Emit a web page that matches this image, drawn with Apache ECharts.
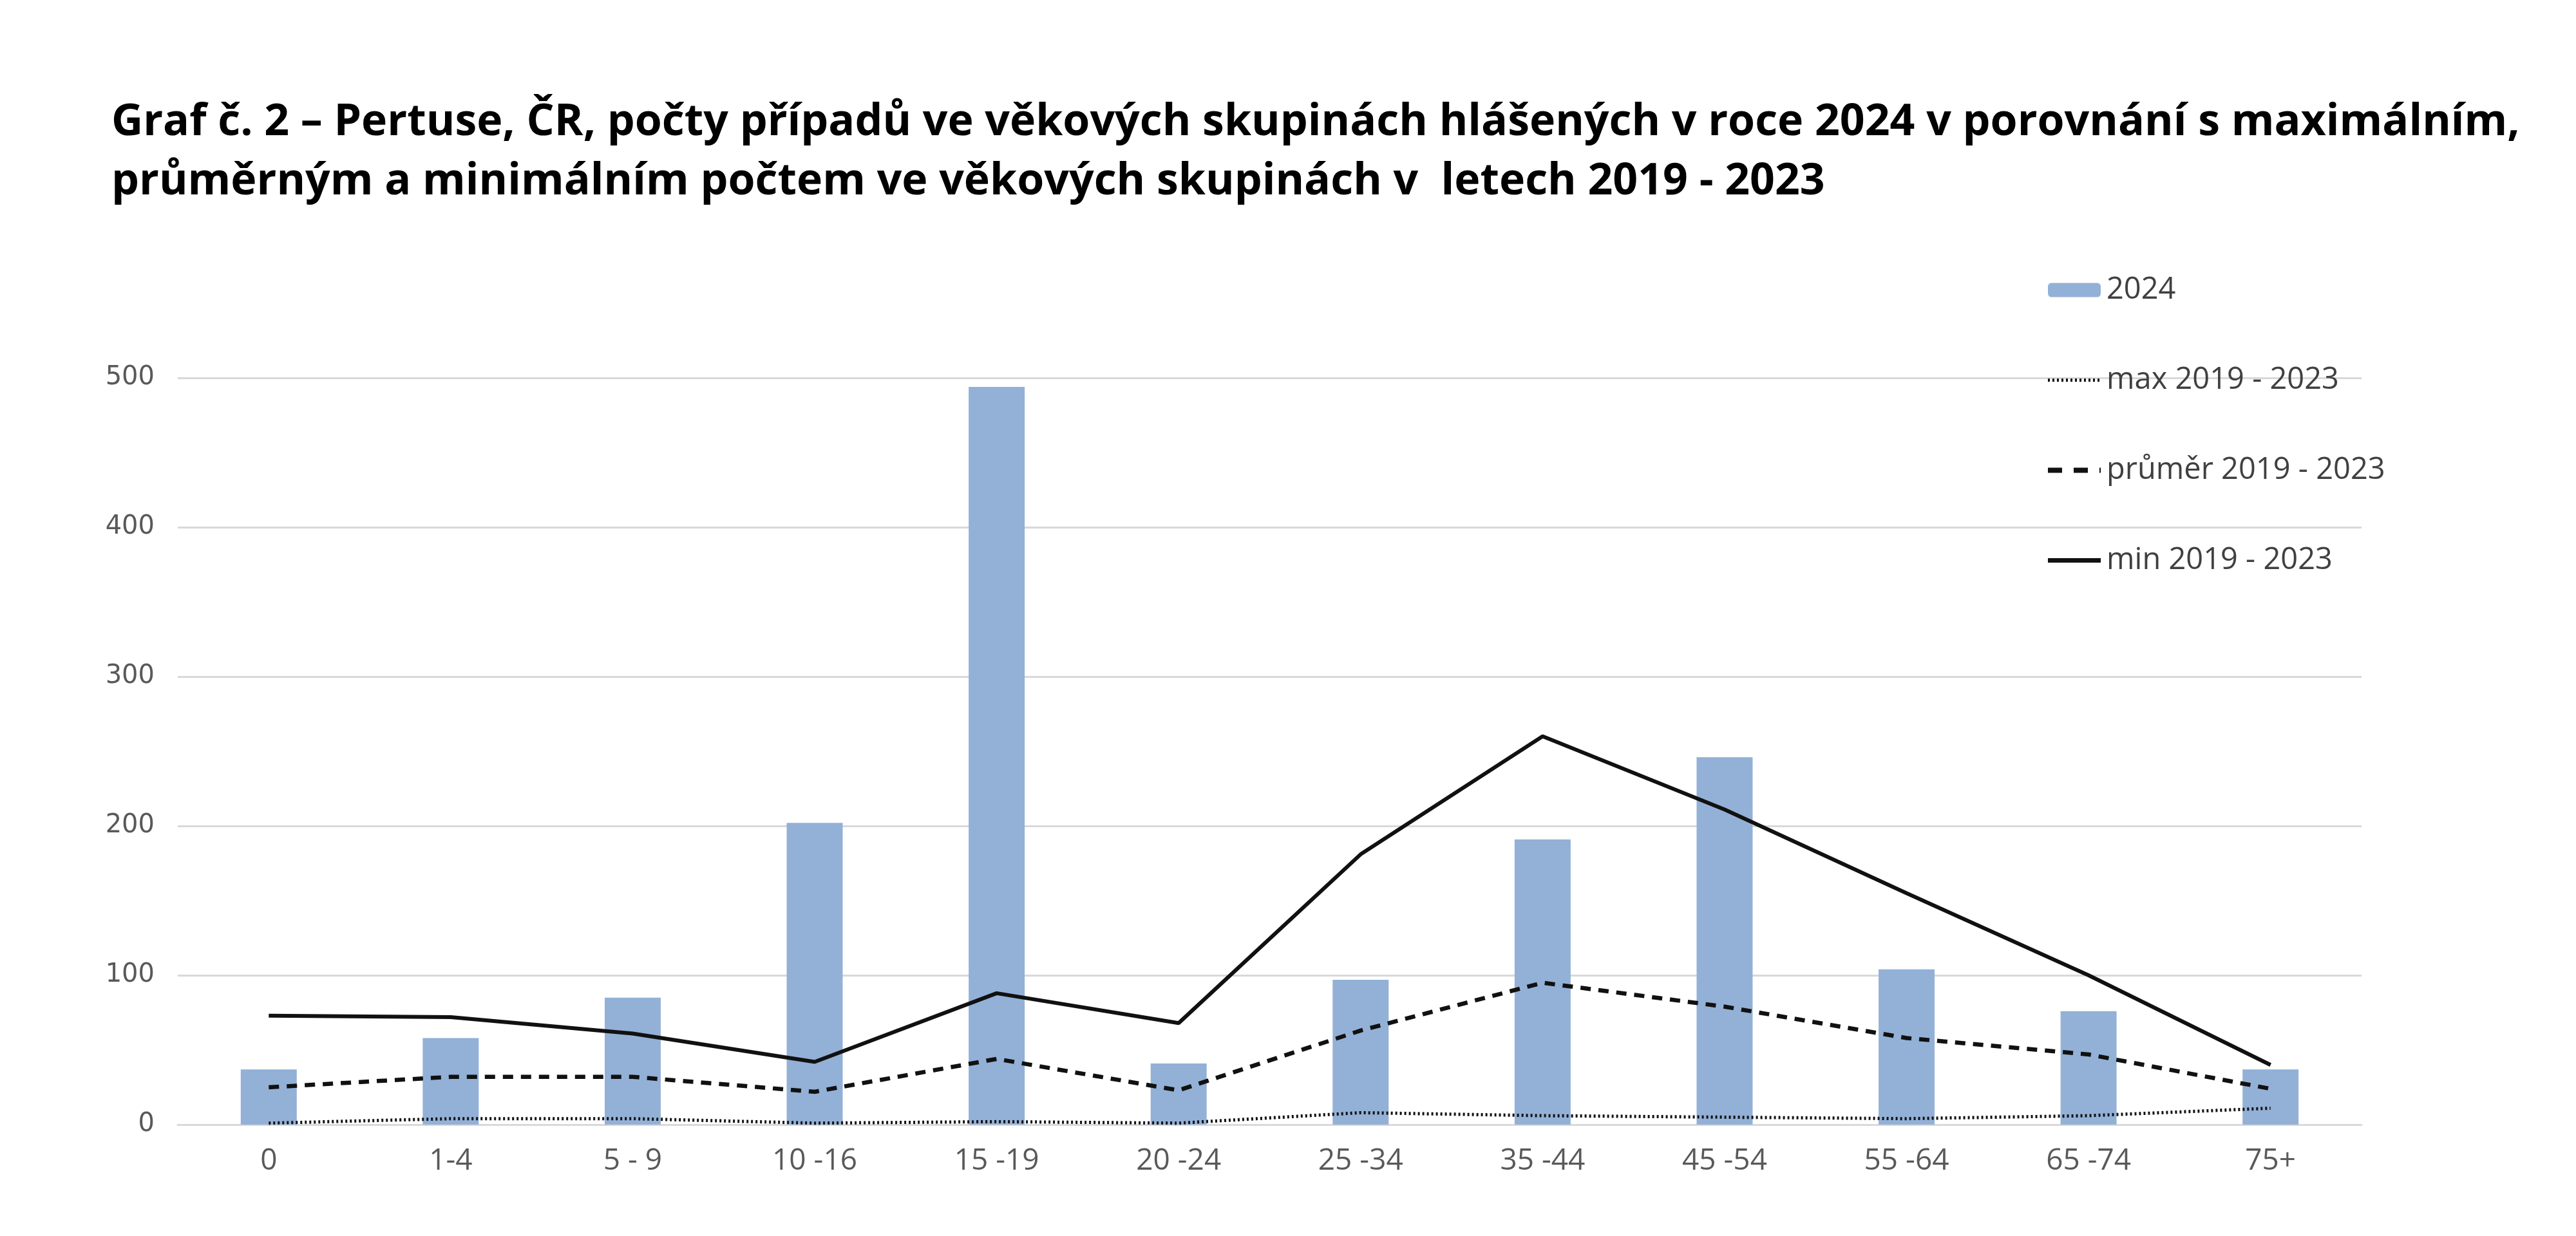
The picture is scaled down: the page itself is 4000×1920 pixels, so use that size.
<!DOCTYPE html>
<html>
<head>
<meta charset="utf-8">
<script src="https://cdn.jsdelivr.net/npm/echarts@6/dist/echarts.min.js"></script>
<style>
html,body{margin:0;padding:0;background:#fff;}
#chart{width:4000px;height:1920px;}
</style>
</head>
<body>
<div id="chart"></div>
<script>
const titleText = 'Graf č. 2 – Pertuse, ČR, počty případů ve věkových skupinách hlášených v roce 2024 v porovnání s maximálním,\nprůměrným a minimálním počtem ve věkových skupinách v  letech 2019 - 2023';
const categories = ['0', '1-4', '5 - 9', '10 -16', '15 -19', '20 -24', '25 -34', '35 -44', '45 -54', '55 -64', '65 -74', '75+'];
const seriesNames = ['2024', 'max 2019 - 2023', 'průměr 2019 - 2023', 'min 2019 - 2023'];
const values2024 = [37, 58, 85, 202, 494, 41, 97, 191, 246, 104, 76, 37];
const valuesMax = [1, 4, 4, 1, 2, 1, 8, 6, 5, 4, 6, 11];
const valuesAvg = [25, 32, 32, 22, 44, 23, 63, 95, 79, 58, 47, 24];
const valuesMin = [73, 72, 61, 42, 88, 68, 181, 260, 211, 155, 100, 40];
const yTicks = [0, 100, 200, 300, 400, 500];

const dottedStyle = { color: '#111111', width: 5, type: [3, 4] };
const dashedStyle = { color: '#111111', width: 6.5, type: [16, 12] };
const solidStyle = { color: '#111111', width: 6, type: 'solid' };

const chart = echarts.init(document.getElementById('chart'));
chart.setOption({
  backgroundColor: '#ffffff',
  animation: false,
  title: {
    text: titleText,
    left: 168,
    top: 140,
    textStyle: {
      fontFamily: 'Open Sans',
      fontWeight: 'bold',
      fontSize: 68,
      lineHeight: 92,
      color: '#000000'
    }
  },
  legend: {
    orient: 'vertical',
    left: 3171,
    top: 422,
    itemWidth: 82,
    itemHeight: 22,
    itemGap: 93,
    data: [
      { name: seriesNames[0] },
      { name: seriesNames[1], itemStyle: { opacity: 0 }, lineStyle: dottedStyle },
      { name: seriesNames[2], itemStyle: { opacity: 0 }, lineStyle: { color: '#111111', width: 8, type: [22, 18] } },
      { name: seriesNames[3], itemStyle: { opacity: 0 }, lineStyle: { color: '#111111', width: 7, type: 'solid' } }
    ],
    textStyle: {
      fontFamily: 'Open Sans',
      fontSize: 47,
      lineHeight: 40,
      color: '#404040',
      padding: [0, 0, 0, 4]
    }
  },
  grid: {
    left: 276,
    right: 333,
    top: 587,
    bottom: 173,
    containLabel: false
  },
  xAxis: {
    type: 'category',
    data: categories,
    axisLine: { show: true, lineStyle: { color: '#D9D9D9', width: 3 } },
    axisTick: { show: false },
    axisLabel: {
      margin: 34,
      fontFamily: 'Liberation Sans Narrow, Open Sans',
      fontSize: 46,
      color: '#595959'
    }
  },
  yAxis: {
    type: 'value',
    min: yTicks[0],
    max: yTicks[yTicks.length - 1],
    interval: 100,
    axisLine: { show: false },
    axisTick: { show: false },
    splitLine: { lineStyle: { color: '#D9D9D9', width: 3 } },
    axisLabel: {
      margin: 36,
      fontFamily: 'DejaVu Sans',
      fontSize: 40,
      color: '#595959'
    }
  },
  series: [
    {
      name: seriesNames[0],
      type: 'bar',
      data: values2024,
      barWidth: 87,
      itemStyle: { color: '#93B1D7' },
      z: 2
    },
    {
      name: seriesNames[1],
      type: 'line',
      data: valuesMax,
      symbol: 'none',
      lineStyle: dottedStyle,
      itemStyle: { color: '#111111' },
      z: 3
    },
    {
      name: seriesNames[2],
      type: 'line',
      data: valuesAvg,
      symbol: 'none',
      lineStyle: dashedStyle,
      itemStyle: { color: '#111111' },
      z: 3
    },
    {
      name: seriesNames[3],
      type: 'line',
      data: valuesMin,
      symbol: 'none',
      lineStyle: solidStyle,
      itemStyle: { color: '#111111' },
      z: 3
    }
  ]
});
</script>
</body>
</html>
